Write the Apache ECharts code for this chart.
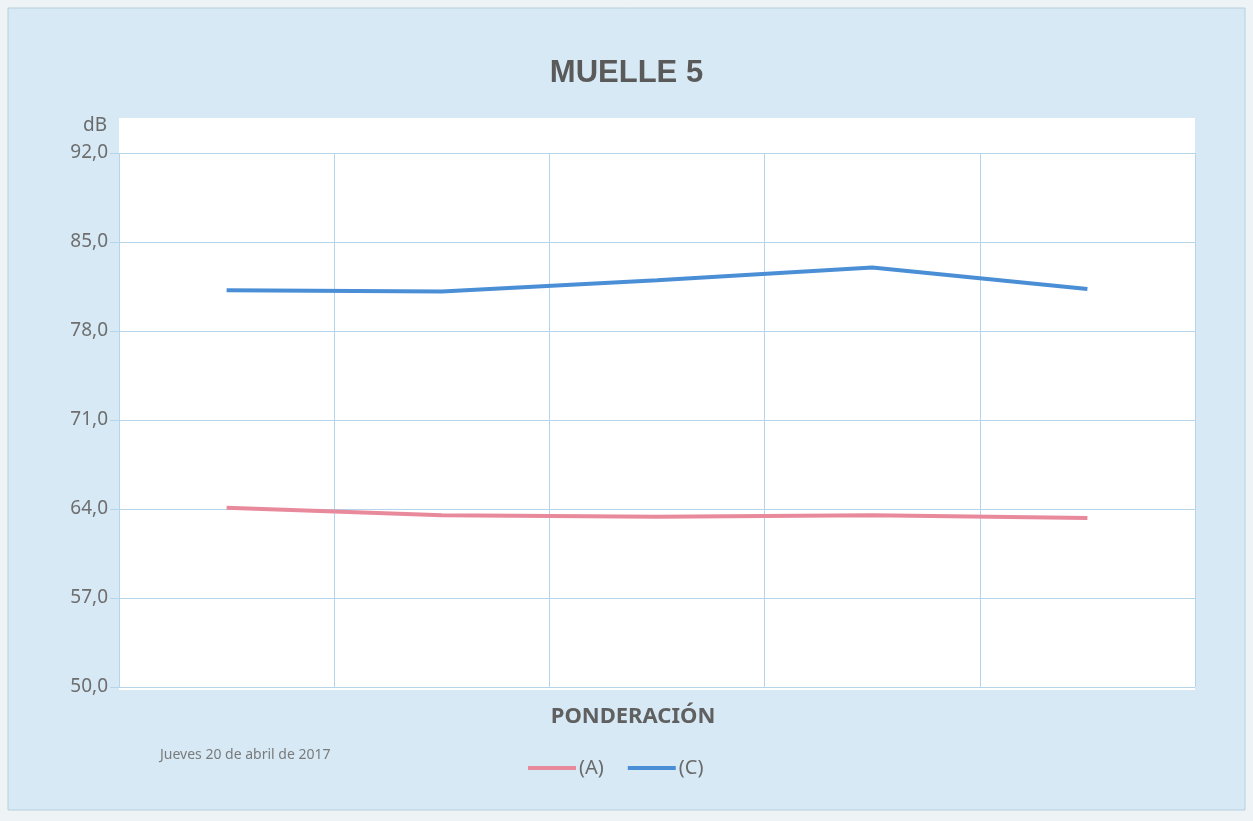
<!DOCTYPE html>
<html>
<head>
<meta charset="utf-8">
<script src="https://cdn.jsdelivr.net/npm/echarts@6/dist/echarts.min.js"></script>
<style>
html,body{margin:0;padding:0;background:#eef3f6;}
#chart{width:1253px;height:821px;}
</style>
</head>
<body>
<div id="chart"></div>
<script>
var categories = ["1", "2", "3", "4", "5"];
var seriesA = [64.1, 63.5, 63.4, 63.5, 63.3];
var seriesC = [81.2, 81.1, 82.0, 83.0, 81.3];
var seriesNames = ["(A)", "(C)"];
var titleText = "MUELLE 5";
var yAxisName = "dB";
var xAxisName = "PONDERACIÓN";
var dateText = "Jueves 20 de abril de 2017";
var yMin = 50, yMax = 92, yStep = 7;

var chart = echarts.init(document.getElementById('chart'));
var gridColor = '#b5d5ea';
chart.setOption({
  backgroundColor: '#eef3f6',
  animation: false,
  graphic: [
    {type: 'rect', z: -10, shape: {x: 8, y: 8, width: 1237, height: 802},
     style: {fill: '#d6e9f5', stroke: '#b8cfdd', lineWidth: 1}},
    {type: 'rect', z: -9, shape: {x: 119, y: 118, width: 1076, height: 572},
     style: {fill: '#ffffff'}},
    {type: 'text', left: 160, top: 748, z: 5,
     style: {text: dateText, font: '14px "Noto Sans"', fill: '#7a7a7a'}}
  ],
  title: {
    text: titleText, left: 'center', top: 53,
    textStyle: {fontFamily: 'Liberation Sans', fontWeight: 'bold', fontSize: 31, color: '#5a5a5a'}
  },
  legend: {
    left: 523, top: 753, icon: 'rect', itemWidth: 48, itemHeight: 4, itemGap: 24,
    textStyle: {fontFamily: 'Noto Sans', fontSize: 20, color: '#6a6a6a', padding: [0, 0, 0, -2]},
    data: seriesNames
  },
  grid: {left: 119, right: 58, top: 153, bottom: 134, containLabel: false},
  xAxis: {
    type: 'category', data: categories, boundaryGap: true,
    name: xAxisName, nameLocation: 'middle', nameGap: 19,
    nameTextStyle: {fontFamily: 'Noto Sans', fontWeight: 'bold', fontSize: 22, color: '#606060', padding: [0, 48, 0, 0]},
    axisLine: {show: false}, axisTick: {show: false}, axisLabel: {show: false},
    splitLine: {show: true, lineStyle: {color: gridColor, width: 1}}
  },
  yAxis: {
    type: 'value', min: yMin, max: yMax, interval: yStep,
    name: yAxisName, nameLocation: 'end', nameGap: 18,
    nameTextStyle: {fontFamily: 'Noto Sans', fontSize: 19, color: '#6a6a6a', align: 'right', padding: [0, 12, 0, 0]},
    axisLine: {show: false},
    axisTick: {show: true, length: 9, lineStyle: {color: gridColor}},
    axisLabel: {
      margin: 11, fontFamily: 'Noto Sans', fontSize: 19, color: '#6e6e6e',
      formatter: function (v) { return v.toFixed(1).replace('.', ','); }
    },
    splitLine: {show: true, lineStyle: {color: gridColor, width: 1}}
  },
  series: [
    {name: seriesNames[0], type: 'line', data: seriesA, symbol: 'none',
     lineStyle: {color: '#e8899c', width: 4}, itemStyle: {color: '#e8899c'}},
    {name: seriesNames[1], type: 'line', data: seriesC, symbol: 'none',
     lineStyle: {color: '#4a8ed6', width: 4}, itemStyle: {color: '#4a8ed6'}}
  ]
});
</script>
</body>
</html>
